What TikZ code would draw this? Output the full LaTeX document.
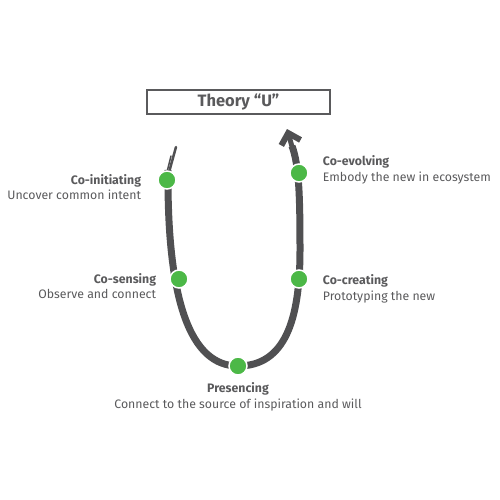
\documentclass[tikz,border=0pt]{standalone}
\usepackage{fontspec}
\setmainfont{Fira Sans}
\usetikzlibrary{positioning,arrows.meta}
\definecolor{ubrush}{HTML}{505052}
\definecolor{ugreen}{HTML}{4CB847}
\definecolor{utext}{HTML}{5A5A5C}
\tikzset{
    stagedot/.style={circle, fill=ugreen, draw=white, line width=1.5pt, minimum size=18pt, inner sep=0pt},
    stagelabel/.style={text=utext, font=\fontsize{12.3}{15.5}\selectfont, inner sep=0pt},
}
\begin{document}
\begin{tikzpicture}[x=1pt, y=-1pt]
    \useasboundingbox (0,0) rectangle (500,500);
    
    \coordinate (tail) at (176,147);
    \coordinate (ci) at (167,180);
    \coordinate (cs) at (179,279);
    \coordinate (pr) at (238,366);
    \coordinate (cc) at (299,279);
    \coordinate (ce) at (299,173);
    \coordinate (tip) at (287,129);
    
    \node[draw=utext, line width=1.2pt, minimum width=183pt, minimum height=24pt, font=\fontsize{16.5}{18}\selectfont\bfseries, text=utext] (title) at (238.5,102) {Theory “U”};
    
    \draw[ubrush, line width=2.5pt, line cap=round] (168,176) -- (tail);
    \draw[ubrush, line width=1.5pt, line cap=round] (166,176) -- (171,156);
    \draw[ubrush, line width=7pt] (168,170) .. controls (167,300) and (190,366) .. (pr)
        .. controls (285,366) and (300,320) .. (300,250)
        .. controls (300,195) and (299,165) .. (292,146);
    \draw[ubrush, line width=5pt, -{Straight Barb[length=10pt, width=20pt, line width=6pt]}] (293,150) -- (tip);
    
    \node[stagedot] (d1) at (ci) {};
    \node[stagedot] (d2) at (cs) {};
    \node[stagedot] (d3) at (pr) {};
    \node[stagedot] (d4) at (cc) {};
    \node[stagedot] (d5) at (ce) {};
    
    \node[stagelabel, align=right, left=16pt of d1, yshift=-7pt] (l1) {\textbf{Co-initiating}\\Uncover common intent};
    \node[stagelabel, align=right, left=13pt of d2, yshift=-7pt] (l2) {\textbf{Co-sensing}\\Observe and connect};
    \node[stagelabel, align=center, below=7pt of d3] (l3) {\textbf{Presencing}\\Connect to the source of inspiration and will};
    \node[stagelabel, align=left, right=14pt of d4, yshift=-10pt] (l4) {\textbf{Co-creating}\\Prototyping the new};
    \node[stagelabel, align=left, right=14pt of d5, yshift=3pt] (l5) {\textbf{Co-evolving}\\Embody the new in ecosystem};
\end{tikzpicture}
\end{document}
